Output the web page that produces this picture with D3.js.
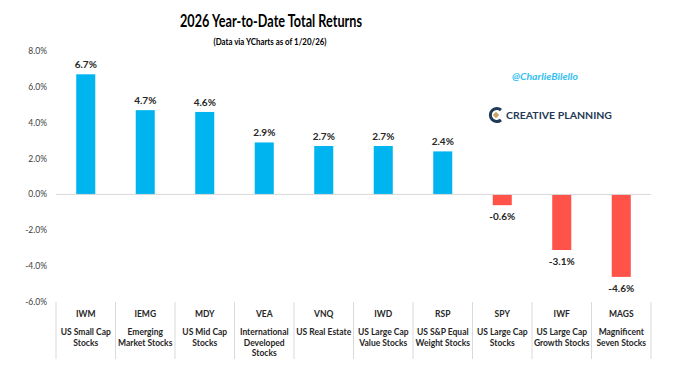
<!DOCTYPE html>
<html>
<head>
<meta charset="utf-8">
<script src="https://cdn.jsdelivr.net/npm/d3@7"></script>
<style>
  body { margin: 0; background: #fff; }
  text { font-family: Lato, "Open Sans", sans-serif; }
</style>
</head>
<body>
<div id="chart"></div>
<script>
const tickers = ["IWM", "IEMG", "MDY", "VEA", "VNQ", "IWD", "RSP", "SPY", "IWF", "MAGS"];
const descriptions = [
    ["US Small Cap", "Stocks"],
    ["Emerging", "Market Stocks"],
    ["US Mid Cap", "Stocks"],
    ["International", "Developed", "Stocks"],
    ["US Real Estate"],
    ["US Large Cap", "Value Stocks"],
    ["US S&P Equal", "Weight Stocks"],
    ["US Large Cap", "Stocks"],
    ["US Large Cap", "Growth Stocks"],
    ["Magnificent", "Seven Stocks"]
];
const returns = [6.7, 4.7, 4.6, 2.9, 2.7, 2.7, 2.4, -0.6, -3.1, -4.6];
const yTicks = [8, 6, 4, 2, 0, -2, -4, -6];

const width = 691, height = 377;
const margin = { left: 56, right: 651, top: 51, bottom: 302 };

const svg = d3.select("#chart").append("svg")
    .attr("width", width)
    .attr("height", height);

const x = d3.scaleBand()
    .domain(tickers)
    .range([margin.left, margin.right])
    .paddingInner(0.68)
    .paddingOuter(0.34);

const xCat = d3.scaleBand()
    .domain(tickers)
    .range([margin.left, margin.right]);

const y = d3.scaleLinear()
    .domain([-6, 8])
    .range([margin.bottom, margin.top]);

const pct = d => d.toFixed(1) + "%";

// title
svg.append("text")
    .attr("x", 271).attr("y", 27)
    .attr("text-anchor", "middle")
    .attr("textLength", 182).attr("lengthAdjust", "spacingAndGlyphs")
    .style("font-size", "16.5px").style("font-weight", "bold")
    .attr("fill", "#000")
    .text("2026 Year-to-Date Total Returns");

svg.append("text")
    .attr("x", 270).attr("y", 45)
    .attr("text-anchor", "middle")
    .attr("textLength", 113).attr("lengthAdjust", "spacingAndGlyphs")
    .style("font-size", "9px").style("font-weight", "bold")
    .attr("fill", "#000")
    .text("(Data via YCharts as of 1/20/26)");

// y axis labels
svg.append("g").selectAll("text")
    .data(yTicks)
    .join("text")
    .attr("x", 47)
    .attr("y", d => y(d) + 3)
    .attr("text-anchor", "end")
    .style("font-size", "8.5px")
    .attr("fill", "#404040")
    .text(pct);

// bars
svg.append("g").selectAll("rect")
    .data(returns)
    .join("rect")
    .attr("x", (d, i) => x(tickers[i]))
    .attr("width", x.bandwidth())
    .attr("y", d => y(Math.max(0, d)))
    .attr("height", d => Math.abs(y(d) - y(0)))
    .attr("fill", d => d >= 0 ? "#00B4EF" : "#FF5249");

// zero line
svg.append("line")
    .attr("x1", margin.left).attr("x2", margin.right)
    .attr("y1", y(0)).attr("y2", y(0))
    .attr("stroke", "#d9d9d9").attr("stroke-width", 1);

// value labels
svg.append("g").selectAll("text")
    .data(returns)
    .join("text")
    .attr("x", (d, i) => x(tickers[i]) + x.bandwidth() / 2)
    .attr("y", d => d >= 0 ? y(d) - 6 : y(d) + 15)
    .attr("text-anchor", "middle")
    .style("font-size", "10px").style("font-weight", "bold")
    .attr("fill", "#262626")
    .text(pct);

// category table dividers
const dividers = xCat.domain().map(t => xCat(t)).concat([margin.right]);
svg.append("g").selectAll("line")
    .data(dividers)
    .join("line")
    .attr("x1", d => d).attr("x2", d => d)
    .attr("y1", 302).attr("y2", 359)
    .attr("stroke", "#d9d9d9").attr("stroke-width", 1);

// tickers
svg.append("g").selectAll("text")
    .data(tickers)
    .join("text")
    .attr("x", d => xCat(d) + xCat.bandwidth() / 2)
    .attr("y", 317)
    .attr("text-anchor", "middle")
    .style("font-size", "8.5px").style("font-weight", "bold")
    .attr("fill", "#262626")
    .text(d => d);

// descriptions
const descG = svg.append("g").selectAll("text")
    .data(descriptions)
    .join("text")
    .attr("x", (d, i) => xCat(tickers[i]) + xCat.bandwidth() / 2)
    .attr("y", 335)
    .attr("text-anchor", "middle")
    .style("font-size", "8.5px").style("font-weight", "bold")
    .attr("fill", "#262626");

descG.selectAll("tspan")
    .data(d => d)
    .join("tspan")
    .attr("x", function () { return d3.select(this.parentNode).attr("x"); })
    .attr("dy", (d, i) => i === 0 ? 0 : 10.5)
    .text(d => d);

// watermark
svg.append("text")
    .attr("x", 545).attr("y", 80)
    .attr("text-anchor", "middle")
    .attr("textLength", 66).attr("lengthAdjust", "spacingAndGlyphs")
    .style("font-size", "9.5px").style("font-style", "italic").style("font-weight", "bold")
    .attr("fill", "#33C0F0")
    .text("@CharlieBilello");

// logo
const logo = svg.append("g").attr("transform", "translate(496,115)");
logo.append("path")
    .attr("d", "M5,-5 A6.5,6.5 0 1 0 5,5")
    .attr("fill", "none").attr("stroke", "#1F3A56").attr("stroke-width", 3);
logo.append("rect")
    .attr("x", -2.3).attr("y", -2.3).attr("width", 4.6).attr("height", 4.6)
    .attr("transform", "rotate(45)")
    .attr("fill", "#C9A46A");
logo.append("text")
    .attr("x", 10).attr("y", 3.5)
    .attr("textLength", 106).attr("lengthAdjust", "spacingAndGlyphs")
    .style("font-size", "9.5px").style("font-weight", "bold")
    .attr("fill", "#1F3A56")
    .text("CREATIVE PLANNING");
</script>
</body>
</html>
